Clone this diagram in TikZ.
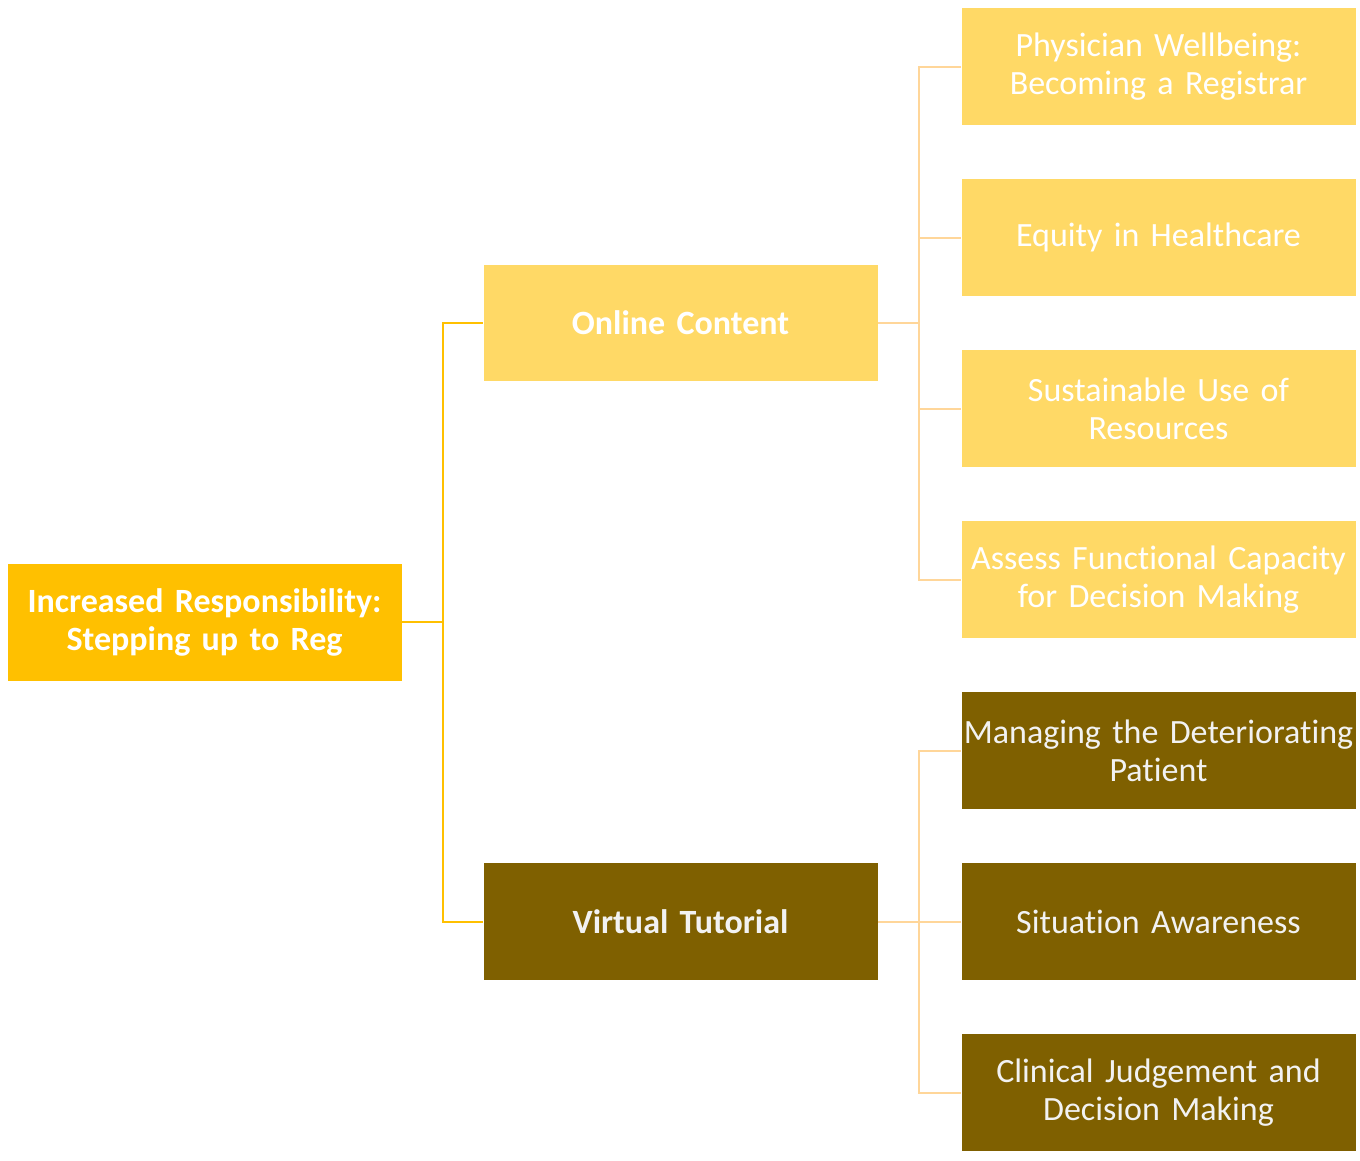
\documentclass[tikz,border=0pt]{standalone}
\usepackage{fontspec}
\setmainfont{Carlito}[Ligatures=NoCommon]
\usetikzlibrary{positioning,calc}

\definecolor{rootgold}{HTML}{FFC000}
\definecolor{lightgold}{HTML}{FFD966}
\definecolor{darkgold}{HTML}{7F6000}
\definecolor{peach}{HTML}{FFD699}

\begin{document}
\begin{tikzpicture}[
  x=1pt, y=-1pt,
  font=\fontsize{34}{38}\selectfont,
  node distance=53.5pt and 83pt,
  box/.style={rectangle, draw=white, line width=0.8pt, align=center, outer sep=0pt,
    minimum width=395pt, minimum height=117.5pt, text width=394pt, inner sep=0pt},
  rootbox/.style={box, fill=rootgold, text=white, font=\fontsize{34}{38}\selectfont\bfseries},
  lightbox/.style={box, fill=lightgold, text=white},
  darkbox/.style={box, fill=darkgold, text=white!95!black},
  headbox/.style={font=\fontsize{34}{38}\selectfont\bfseries},
  trunk/.style={draw=rootgold, line width=2pt},
  twig/.style={draw=peach, line width=2pt}
]
\useasboundingbox (0,0) rectangle (1360,1160);

% Nodes (right column)
\node[lightbox] (wellbeing) at (1158.5,66.5) {Physician Wellbeing:\\Becoming a Registrar};
\node[lightbox, below=of wellbeing] (equity) {Equity in Healthcare};
\node[lightbox, below=of equity] (sustain) {Sustainable Use of\\Resources};
\node[lightbox, below=of sustain] (capacity) {Assess Functional Capacity\\for Decision Making};
\node[darkbox, below=of capacity] (deteriorating) {Managing the Deteriorating\\Patient};
\node[darkbox, below=of deteriorating] (awareness) {Situation Awareness};
\node[darkbox, below=of awareness] (judgement) {Clinical Judgement and\\Decision Making};

% Middle column
\node[lightbox, headbox, anchor=east] (online) at ($(equity.west)!0.5!(sustain.west)+(-83pt,0)$) {Online Content};
\node[darkbox, headbox, left=of awareness] (tutorial) {Virtual Tutorial};

% Root
\node[rootbox, anchor=east] (root) at ($(online.west)!0.5!(tutorial.west)+(-81pt,0)$) {Increased Responsibility:\\Stepping up to Reg};

% Connectors
\draw[trunk] (root.east) -- ++(41pt,0) |- (online.west);
\draw[trunk] (root.east) -- ++(41pt,0) |- (tutorial.west);
\foreach \leaf in {wellbeing,equity,sustain,capacity}
  \draw[twig] (online.east) -- ++(41pt,0) |- (\leaf.west);
\foreach \leaf in {deteriorating,awareness,judgement}
  \draw[twig] (tutorial.east) -- ++(41pt,0) |- (\leaf.west);

\end{tikzpicture}
\end{document}
